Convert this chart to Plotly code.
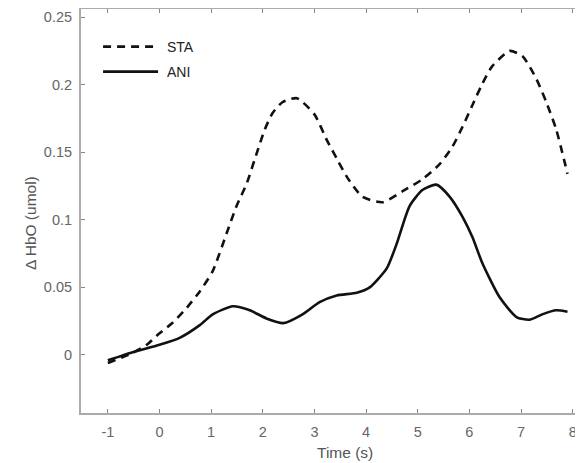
import plotly.graph_objects as go

# STA (dashed) series
sta_t = [-1.0, -0.52, -0.25, 0.0, 0.26, 0.53, 0.78, 1.03, 1.3, 1.49, 1.69, 1.88, 2.04, 2.19,
         2.38, 2.66, 3.0, 3.24, 3.45, 3.64, 3.93, 4.32, 4.7, 5.09, 5.42, 5.67, 5.87, 6.06,
         6.23, 6.43, 6.78, 7.03, 7.3, 7.49, 7.68, 7.9]
sta_v = [-0.006, 0.0015, 0.0074, 0.016, 0.024, 0.035, 0.047, 0.062, 0.090, 0.110, 0.127,
         0.149, 0.167, 0.179, 0.187, 0.190, 0.178, 0.159, 0.144, 0.131, 0.117, 0.113, 0.121,
         0.130, 0.141, 0.154, 0.169, 0.185, 0.199, 0.213, 0.225, 0.221, 0.204, 0.187, 0.167,
         0.134]

# ANI (solid) series
ani_t = [-1.0, -0.52, 0.0, 0.39, 0.78, 1.03, 1.42, 1.75, 2.07, 2.4, 2.77, 3.1, 3.43, 3.82,
         4.07, 4.4, 4.59, 4.84, 5.09, 5.36, 5.62, 5.87, 6.06, 6.25, 6.58, 6.91, 7.16, 7.41,
         7.68, 7.9]
ani_v = [-0.004, 0.002, 0.0075, 0.0126, 0.022, 0.030, 0.036, 0.033, 0.027, 0.0235, 0.030,
         0.039, 0.044, 0.046, 0.050, 0.064, 0.082, 0.110, 0.122, 0.126, 0.117, 0.102, 0.087,
         0.068, 0.043, 0.028, 0.026, 0.030, 0.033, 0.032]

x_ticks = [-1, 0, 1, 2, 3, 4, 5, 6, 7, 8]
x_tick_text = ["-1", "0", "1", "2", "3", "4", "5", "6", "7", "8"]
y_ticks = [0, 0.05, 0.1, 0.15, 0.2, 0.25]
y_tick_text = ["0", "0.05", "0.1", "0.15", "0.2", "0.25"]

FONT = "Arial, Liberation Sans, Helvetica, sans-serif"

fig = go.Figure()
fig.add_trace(go.Scatter(x=sta_t, y=sta_v, mode="lines", name="\u00a0STA", legend="legend",
                         line=dict(color="#111111", width=2.6, dash="8px,6px", shape="spline", smoothing=0.6)))
fig.add_trace(go.Scatter(x=ani_t, y=ani_v, mode="lines", name="\u00a0ANI", legend="legend2",
                         line=dict(color="#111111", width=2.6, shape="spline", smoothing=0.6)))

axis_common = dict(showgrid=False, zeroline=False, showline=True, linecolor="#ababab", linewidth=2,
                   ticks="inside", ticklen=4, tickcolor="#8a8a8a", tickwidth=1,
                   tickfont=dict(family=FONT, size=14.5, color="#666666"))

legend_common = dict(xanchor="left", yanchor="middle", bgcolor="rgba(0,0,0,0)",
                     font=dict(family=FONT, size=14, color="#222222"), itemwidth=55)

fig.update_layout(
    width=575, height=455,
    margin=dict(l=73, r=0, t=1, b=50),
    paper_bgcolor="white", plot_bgcolor="white",
    font=dict(family=FONT, color="#333333"),
    showlegend=True,
    legend=dict(x=0.034, y=0.906, **legend_common),
    legend2=dict(x=0.034, y=0.844, **legend_common),
    xaxis=dict(range=[-1.52, 8.2], tickvals=x_ticks, ticktext=x_tick_text, mirror="ticks",
               ticklabelstandoff=5, **axis_common),
    yaxis=dict(range=[-0.043, 0.256], tickvals=y_ticks, ticktext=y_tick_text, mirror=False,
               ticklabelstandoff=4, **axis_common),
    annotations=[
        dict(text="Time (s)", xref="x", yref="paper", x=3.6, y=0, yshift=-39, showarrow=False,
             xanchor="center", yanchor="middle", font=dict(family=FONT, size=15.5, color="#555555")),
        dict(text="Δ HbO (umol)", xref="paper", yref="paper", x=0, xshift=-51, y=0.47, showarrow=False,
             textangle=-90, xanchor="center", yanchor="middle", font=dict(family=FONT, size=15.5, color="#555555")),
    ],
)

fig.write_html("out.html")
